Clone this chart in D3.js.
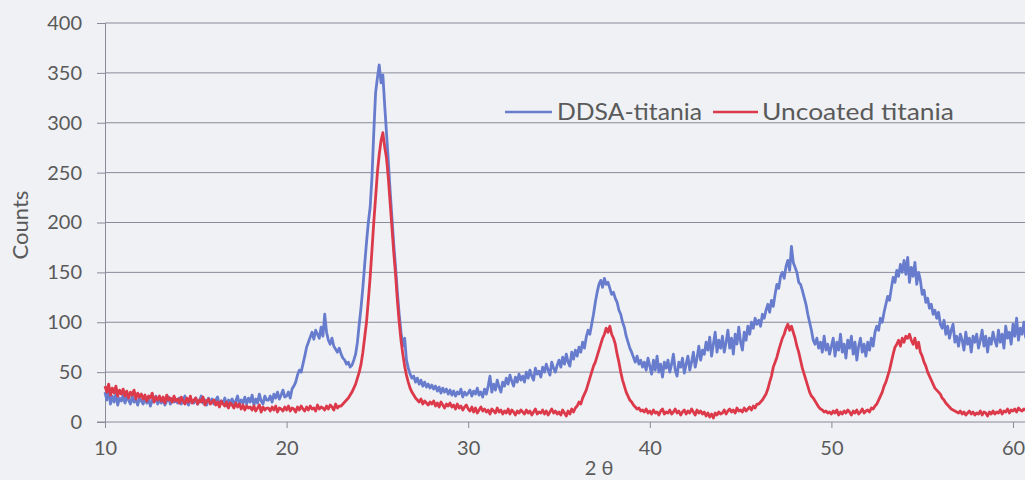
<!DOCTYPE html>
<html><head><meta charset="utf-8">
<script src="https://cdn.jsdelivr.net/npm/d3@7"></script>
<style>
html,body{margin:0;padding:0;background:#eff1f5;}
svg{display:block;}
</style></head>
<body>
<svg id="c" width="1025" height="480"></svg>
<script>
// 2θ sampling: start 10°, step 0.1°
const angleStart = 10;
const angleStep = 0.1;
const xTicks = [10, 20, 30, 40, 50, 60];
const yTicks = [0, 50, 100, 150, 200, 250, 300, 350, 400];
const seriesNames = ["DDSA-titania", "Uncoated titania"];

const ddsa = [
30,22,34,18,26,20,28,17,24,21,
27,19,25,22,18,26,20,23,17,24,
21,18,25,19,23,16,22,20,26,18,
22,19,24,17,21,25,18,23,20,22,
19,24,18,22,26,20,17,23,21,19,
24,18,21,26,19,22,17,24,20,23,
18,22,25,17,21,19,24,16,22,20,
23,18,21,26,17,22,19,25,18,24,
20,27,17,23,19,28,21,18,26,22,
22,26,20,28,24,30,23,27,32,25,
26,30,24,33,36,40,47,52,50,58,
66,75,80,85,90,83,92,88,84,95,
86,108,90,82,78,84,76,73,70,74,
68,64,62,58,60,55,57,62,68,80,
98,115,135,158,180,200,215,245,290,330,
345,358,340,348,318,290,262,232,205,178,
155,130,108,90,76,84,62,54,48,44,
46,40,44,38,42,36,40,35,38,34,
37,33,36,31,35,29,34,30,33,28,
32,27,31,26,30,28,33,25,30,27,
29,32,26,31,28,34,27,30,25,33,
28,36,46,30,38,32,42,35,30,40,
36,44,38,47,41,36,45,40,48,42,
46,40,50,44,52,46,42,54,48,51,
45,55,50,58,52,47,60,54,50,57,
62,55,65,58,68,60,56,70,63,72,
66,75,70,80,74,85,92,88,98,108,
120,130,138,142,135,144,138,140,134,128,
130,124,120,112,108,100,95,86,80,74,
70,65,60,66,58,62,55,60,52,64,
56,48,62,52,66,50,58,45,60,54,
62,50,58,68,52,46,60,55,64,49,
58,66,52,60,70,55,64,76,62,72,
68,80,72,85,66,78,90,70,82,74,
86,70,80,92,74,84,68,88,78,95,
80,72,90,82,96,88,100,94,104,98,
102,96,108,104,112,118,110,122,116,128,
138,134,146,150,144,156,162,152,176,160,
155,150,140,138,132,125,118,108,100,92,
82,78,84,74,80,70,86,72,78,68,
76,84,66,80,72,88,70,78,64,82,
74,86,68,80,62,76,84,70,78,66,
80,72,84,76,90,96,92,104,100,110,
118,126,122,134,145,140,152,146,158,150,
162,148,165,140,155,146,160,138,150,142,
128,132,120,124,114,118,108,112,104,110,
98,94,102,88,96,84,92,98,80,86,
76,88,82,72,90,78,84,70,86,80,
88,74,82,92,76,86,70,84,78,90,
82,76,92,80,88,74,96,84,90,78,
98,86,104,82,94,88,100,84
];

const uncoated = [
36,30,38,27,34,29,36,26,32,28,
33,26,31,24,30,27,32,23,29,25,
28,23,27,21,26,24,29,20,25,22,
26,21,25,19,27,22,24,20,26,21,
23,19,25,21,18,24,20,26,19,22,
24,18,22,20,25,17,21,23,18,20,
22,17,20,15,21,18,16,20,14,19,
17,14,19,15,18,13,17,12,16,14,
15,12,16,11,14,17,10,15,12,14,
14,11,15,12,16,10,14,13,11,15,
12,16,11,14,13,10,15,12,16,13,
11,15,12,16,13,14,11,17,13,15,
14,12,16,13,17,15,12,18,14,16,
16,18,20,22,24,27,30,34,38,44,
50,58,70,85,100,122,145,172,200,225,
250,268,282,290,276,265,245,220,195,170,
148,122,100,82,68,56,47,40,34,30,
27,24,22,20,23,18,21,19,17,20,
18,21,16,19,15,20,17,14,18,16,
19,15,17,13,18,14,16,12,15,17,
13,11,15,10,14,9,12,15,11,13,
10,12,8,13,11,9,14,10,12,8,
11,9,13,8,12,10,7,11,9,12,
10,8,12,9,11,7,10,13,8,10,
9,12,8,11,7,10,13,9,11,8,
10,7,12,9,6,11,8,13,10,14,
16,20,18,24,28,32,38,44,50,56,
60,66,72,78,84,88,94,90,96,88,
84,78,68,60,50,42,36,30,26,22,
20,17,15,13,14,11,12,10,13,9,
11,8,12,9,10,7,11,13,8,10,
9,12,8,10,13,9,11,7,10,12,
8,11,9,13,10,7,12,9,11,8,
10,6,9,5,8,4,9,7,10,8,
9,12,8,11,13,10,12,9,14,11,
12,10,14,11,13,15,12,16,14,18,
18,20,22,25,28,33,40,46,55,60,
65,72,78,84,88,94,98,92,96,90,
84,76,70,62,54,48,42,36,30,26,
24,21,18,15,13,12,10,11,9,10,
8,11,9,12,7,10,8,11,9,12,
10,7,11,9,12,8,10,13,9,11,
12,10,14,13,16,18,22,26,30,36,
40,46,52,60,68,75,78,82,76,84,
80,86,84,88,82,78,84,74,80,70,
66,60,56,50,46,42,38,34,32,30,
28,24,22,19,17,15,13,12,11,10,
9,11,8,10,7,9,11,8,10,7,
9,8,11,7,10,9,6,10,8,11,
8,10,9,12,8,11,10,13,9,12,
11,13,10,14,12,11,13,12
];

const colors = ["#687ccd", "#dc3a4b"];
const textColor = "#5a5a5a";
const gridColor = "#8a8a99";
const font = "Lato, 'Open Sans', sans-serif";

const svg = d3.select("#c");
const W = 1025, H = 480;
const padLeft = 105, padTop = 23, padBottom = 422;

const x = d3.scaleLinear().domain([10, 60]).range([padLeft, 1013]);
const y = d3.scaleLinear().domain([0, 400]).range([padBottom, padTop]);

// gridlines
svg.append("g").selectAll("line").data(yTicks.filter(d => d > 0)).join("line")
  .attr("x1", padLeft).attr("x2", W)
  .attr("y1", d => y(d)).attr("y2", d => y(d))
  .attr("stroke", gridColor).attr("stroke-width", 1);

// y axis
const yAxis = svg.append("g").attr("transform", `translate(${padLeft},0)`)
  .call(d3.axisLeft(y).tickValues(yTicks).tickSize(8).tickPadding(15));
yAxis.select(".domain").attr("stroke", gridColor);
yAxis.selectAll(".tick line").attr("stroke", gridColor);
yAxis.selectAll("text").attr("fill", textColor).style("font-family", font).style("font-size", "20px");

// x axis
const xAxis = svg.append("g").attr("transform", `translate(0,${padBottom})`)
  .call(d3.axisBottom(x).tickValues(xTicks).tickSize(6).tickPadding(13));
xAxis.select(".domain").remove();
svg.append("line").attr("x1", padLeft - 8).attr("x2", W).attr("y1", padBottom).attr("y2", padBottom)
  .attr("stroke", gridColor);
xAxis.selectAll(".tick line").attr("stroke", gridColor);
xAxis.selectAll("text").attr("fill", textColor).style("font-family", font).style("font-size", "20px");

// lines
const series = [ddsa, uncoated];
const line = d3.line().x((d, i) => x(angleStart + i * angleStep)).y(d => y(d));
svg.append("g").selectAll("path").data(series).join("path")
  .attr("d", d => line(d))
  .attr("fill", "none")
  .attr("stroke", (d, i) => colors[i])
  .attr("stroke-width", 2.8)
  .attr("stroke-linejoin", "round");

// axis titles
svg.append("text").attr("transform", "translate(28,225) rotate(-90)")
  .attr("text-anchor", "middle").attr("fill", textColor)
  .style("font-family", font).style("font-size", "22px").text("Counts");
svg.append("text").attr("x", 599).attr("y", 475)
  .attr("text-anchor", "middle").attr("fill", textColor)
  .style("font-family", font).style("font-size", "20px").text("2 θ");

// legend
const legend = [
  {name: seriesNames[0], color: colors[0], x1: 505, x2: 552, tx: 557, len: 145},
  {name: seriesNames[1], color: colors[1], x1: 713, x2: 758, tx: 762, len: 192}
];
const lg = svg.append("g");
legend.forEach(l => {
  lg.append("line").attr("x1", l.x1).attr("x2", l.x2).attr("y1", 112).attr("y2", 112)
    .attr("stroke", l.color).attr("stroke-width", 2.6);
  lg.append("text").attr("x", l.tx).attr("y", 120).attr("fill", textColor)
    .attr("textLength", l.len).attr("lengthAdjust", "spacingAndGlyphs")
    .style("font-family", font).style("font-size", "24px").text(l.name);
});
</script>
</body></html>
